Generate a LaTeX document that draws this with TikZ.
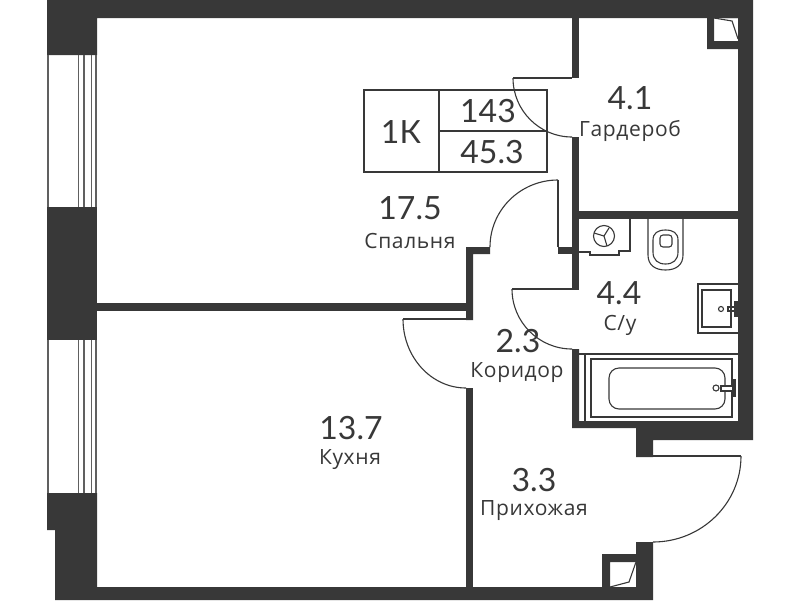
\documentclass[tikz,border=0pt]{standalone}
\usepackage{fontspec}
\setmainfont{Lato}
\newfontfamily\roomfont[LetterSpace=3]{Open Sans}
\definecolor{walldark}{HTML}{383838}
\tikzset{
  wall/.style={fill=walldark},
  fixture/.style={draw=walldark,line width=1.1pt},
  doorline/.style={draw=walldark,line width=1.1pt},
  glass/.style={draw=walldark!80,line width=1.5pt},
  areanum/.style={text=walldark,font=\fontsize{32}{32}\selectfont,inner sep=0pt},
  roomname/.style={text=walldark,font=\roomfont\fontsize{21}{21}\selectfont,inner sep=0pt},
}
\begin{document}
\begin{tikzpicture}[x=1pt,y=-1pt]
    \useasboundingbox (0,0) rectangle (800,600);
    \fill [white] (0,0) rectangle (800,600);

    % outer walls
    \fill [wall] (47,0) -- (753,0) -- (753,440) -- (653,440) -- (653,457) -- (636,457) -- (636,428) -- (572,428) -- (572,349) -- (579,349) -- (579,421) -- (738,421) -- (738,18) -- (97,18) -- (97,55) -- (47,55) -- cycle;
    \fill [wall] (47,207) rectangle (97,340);
    \fill [wall] (47,493) -- (97,493) -- (97,587) -- (636,587) -- (636,542) -- (653,542) -- (653,600) -- (55,600) -- (55,530) -- (47,530) -- cycle;

    % inner walls
    \fill [wall] (97,303) rectangle (466,311);
    \fill [wall] (466,247) -- (490,247) -- (490,254) -- (473,254) -- (473,320) -- (466,320) -- cycle;
    \fill [wall] (466,388) rectangle (473,587);
    \fill [wall] (572,18) rectangle (579,78);
    \fill [wall] (572,137) rectangle (579,290);
    \fill [wall] (558,247) rectangle (572,254);
    \fill [wall] (579,211) rectangle (738,219);

    % shafts
    \fill [wall, even odd rule] (707,18) rectangle (738,49) (714,18) rectangle (738,41);
    \fill [wall, even odd rule] (602,554) rectangle (636,587) (610,562) rectangle (636,587);
    \draw [fixture] (714,18) -- (732,21) -- (738,39);
    \draw [fixture] (610,587) -- (629,582) -- (636,562);

    % windows
    \foreach \ya/\yb in {55/207,340/493} {
      \foreach \xa in {48,78.5,84,91.5,96} {
        \draw [glass] (\xa,\ya) -- (\xa,\yb);
      }
    }

    % doors
    \draw [doorline] (513,78) -- (572,78);
    \draw [doorline] (513,78) arc (180:270:59pt);
    \draw [doorline] (512,289) -- (572,289);
    \draw [doorline] (512,289) arc (180:270:60pt and 60pt);
    \draw [doorline] (558,247) -- (558,180);
    \draw [doorline] (490,247) arc (180:90:68pt and 67pt);
    \draw [doorline] (403,319) -- (466,319);
    \draw [doorline] (403,319) arc (180:270:63pt and 69pt);
    \draw [doorline] (653,456) -- (741,456);
    \draw [doorline] (741,456) arc (0:-90:88pt and 86pt);

    % boiler
    \draw [fixture] (630,219) -- (630,251) -- (619,251) -- (619,255) -- (590,255) -- (590,252) -- (579,252);
    \draw [fixture] (604,236) circle (10.5pt);
    \draw [fixture] (604,236) -- (609,228);
    \draw [fixture] (604,236) -- (594,233);
    \draw [fixture] (604,236) -- (607,246);

    % toilet
    \draw [fixture] (648,219) -- (648,255) .. controls (648,265) and (655,270) .. (665.5,270) .. controls (676,270) and (683,265) .. (683,255) -- (683,219);
    \draw [fixture] (653,240) .. controls (653,233) and (658,230) .. (665.5,230) .. controls (673,230) and (678,233) .. (678,240) -- (678,252) .. controls (678,260) and (673,264) .. (665.5,264) .. controls (658,264) and (653,260) .. (653,252) -- cycle;
    \draw [fixture, rounded corners=3pt] (660,235) rectangle (672,247);

    % sink
    \draw [fixture] (738,284) -- (698,284) -- (698,333) -- (738,333);
    \draw [fixture] (702,290) rectangle (731,327);
    \draw [fixture] (721,309) circle (2.5pt);
    \draw [fixture] (728,307) rectangle (736,311);
    \fill [wall] (734,301) rectangle (738,317);

    % bath
    \draw [fixture] (579,354) -- (738,354);
    \draw [fixture] (585,354) -- (585,421);
    \draw [fixture] (591,359) rectangle (732,417);
    \draw [fixture, rounded corners=10pt] (609,368) rectangle (725,409);
    \draw [fixture] (716,388) circle (3pt);
    \draw [fixture, fill=white] (721,386) rectangle (733,391);
    \fill [wall] (732,379) rectangle (736,397);

    % table
    \draw [fixture] (364,90) rectangle (547,172);
    \draw [fixture] (439,90) -- (439,172);
    \draw [fixture] (439,131) -- (547,131);
    \node [areanum] (typeval) at (401,132) {1К};
    \node [areanum] (numval) at (488,111) {143};
    \node [areanum] (totalval) at (492,152) {45.3};

    % rooms
    \node [areanum] (wardrobearea) at (630,98) {4.1};
    \node [roomname] (wardrobename) at (630,131) {Гардероб};
    \node [areanum] (bedroomarea) at (410,208) {17.5};
    \node [roomname] (bedroomname) at (410,241) {Спальня};
    \node [areanum] (bathroomarea) at (619,293) {4.4};
    \node [roomname] (bathroomname) at (620,325) {С/у};
    \node [areanum] (corridorarea) at (518,341) {2.3};
    \node [roomname] (corridorname) at (517,373) {Коридор};
    \node [areanum] (kitchenarea) at (351,428) {13.7};
    \node [roomname] (kitchenname) at (350,460) {Кухня};
    \node [areanum] (hallarea) at (534,480) {3.3};
    \node [roomname] (hallname) at (534,511) {Прихожая};
\end{tikzpicture}
\end{document}
